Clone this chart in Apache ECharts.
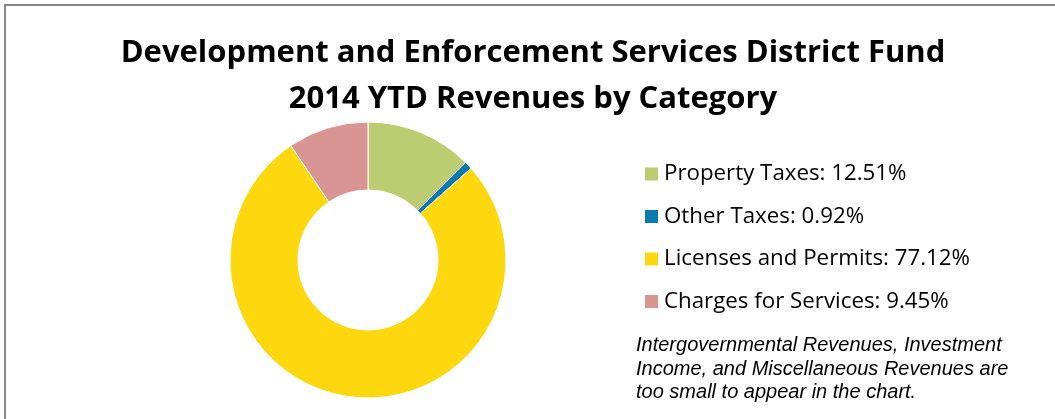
<!DOCTYPE html>
<html>
<head>
<meta charset="utf-8">
<script src="https://cdn.jsdelivr.net/npm/echarts@6/dist/echarts.min.js"></script>
<style>
html,body{margin:0;padding:0;background:#fff;}
#chart{width:1055px;height:419px;}
</style>
</head>
<body>
<div id="chart"></div>
<script>
const titleLines = ['Development and Enforcement Services District Fund', '2014 YTD Revenues by Category'];
const categories = ['Property Taxes', 'Other Taxes', 'Licenses and Permits', 'Charges for Services'];
const shares = [12.51, 0.92, 77.12, 9.45];
const colors = ['#BBCD70', '#0A7BAF', '#FDD80E', '#D99594'];
const noteLines = ['Intergovernmental Revenues, Investment', 'Income, and Miscellaneous Revenues are', 'too small to appear in the chart.'];

const chart = echarts.init(document.getElementById('chart'));
const data = categories.map((c, i) => ({ name: c, value: shares[i], itemStyle: { color: colors[i] } }));
const shareOf = {};
categories.forEach((c, i) => { shareOf[c] = shares[i]; });

chart.setOption({
  animation: false,
  title: [
    {
      text: titleLines.join('\n'),
      left: 533, top: 30, textAlign: 'center', padding: 0,
      textStyle: { fontFamily: 'Open Sans', fontWeight: 'bold', fontSize: 31, lineHeight: 46, color: '#000' }
    },
    {
      text: noteLines.join('\n'),
      left: 636, top: 334, padding: 0,
      textStyle: { fontFamily: 'Liberation Sans', fontStyle: 'italic', fontWeight: 'normal', fontSize: 20, lineHeight: 23.5, color: '#000' }
    }
  ],
  legend: {
    orient: 'vertical',
    left: 638, top: 158,
    itemWidth: 15, itemHeight: 15, itemGap: 20.5,
    icon: 'rect',
    selectedMode: false,
    formatter: name => name + ': ' + shareOf[name].toFixed(2) + '%',
    textStyle: { fontFamily: 'Open Sans', fontSize: 22.3, color: '#000', lineHeight: 22 },
    data: categories
  },
  graphic: [
    { type: 'polyline', shape: { points: [[5, 419], [5, 5], [1055, 5]] }, style: { stroke: '#878787', lineWidth: 2, fill: null } }
  ],
  series: [{
    type: 'pie',
    radius: [70, 138],
    center: [368, 260],
    startAngle: 90,
    clockwise: true,
    label: { show: false },
    labelLine: { show: false },
    emphasis: { disabled: true },
    itemStyle: { borderColor: '#fff', borderWidth: 1 },
    data: data
  }]
});
</script>
</body>
</html>
